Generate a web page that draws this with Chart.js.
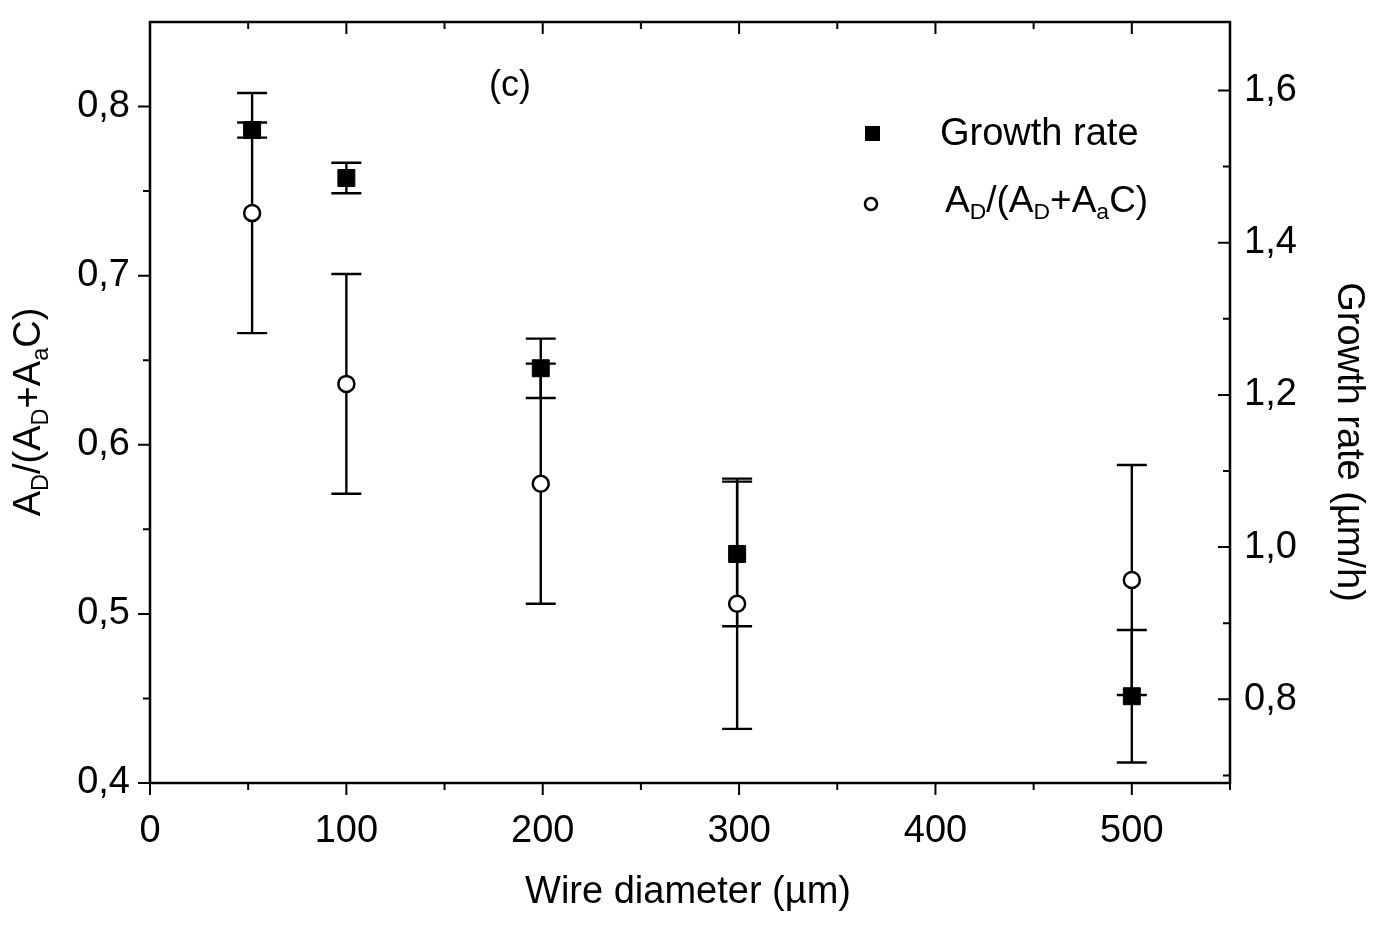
<!DOCTYPE html>
<html lang="en">
<head>
    <meta charset="UTF-8">
    <title>Wire diameter vs growth rate</title>
    <script src="https://cdn.jsdelivr.net/npm/chart.js@4.4.0/dist/chart.umd.min.js"></script>
    <style>
        body { margin: 0; background: #fff; }
        #wrap { width: 1395px; height: 927px; position: relative; }
    </style>
</head>
<body>
    <div id="wrap"><canvas id="chart"></canvas></div>

    <script>
        // data
        const diameters = [52, 100, 199, 299, 500];
        const growthRate = [1.548, 1.485, 1.235, 0.991, 0.804];
        const growthErr = [0.010, 0.020, 0.039, 0.095, 0.087];
        const ratio = [0.737, 0.636, 0.577, 0.506, 0.520];
        const ratioErr = [0.071, 0.065, 0.071, 0.074, 0.068];

        const xTicks = [0, 100, 200, 300, 400, 500];
        const leftTicks = [0.4, 0.5, 0.6, 0.7, 0.8];
        const rightTicks = [0.8, 1.0, 1.2, 1.4, 1.6];

        const FONT = "'Liberation Sans', Arial, sans-serif";
        const comma = v => Number(v).toFixed(1).replace('.', ',');

        // text with subscripts, parts: [text, isSub]
        function richText(ctx, parts, x, y, size, align) {
            let total = 0;
            parts.forEach(p => {
                ctx.font = (p[1] ? size * 0.62 : size) + 'px ' + FONT;
                total += ctx.measureText(p[0]).width;
            });
            let cx = align === 'center' ? x - total / 2 : x;
            ctx.textAlign = 'left';
            ctx.textBaseline = 'middle';
            parts.forEach(p => {
                ctx.font = (p[1] ? size * 0.62 : size) + 'px ' + FONT;
                ctx.fillText(p[0], cx, p[1] ? y + size * 0.3 : y);
                cx += ctx.measureText(p[0]).width;
            });
        }

        const ratioLabel = [['A', 0], ['D', 1], ['/(A', 0], ['D', 1], ['+A', 0], ['a', 1], ['C)', 0]];

        const errorBars = {
            id: 'errorBars',
            beforeDatasetsDraw(chart) {
                const ctx = chart.ctx, x = chart.scales.x;
                const sets = [[growthRate, growthErr, chart.scales.y2], [ratio, ratioErr, chart.scales.y]];
                ctx.save();
                ctx.strokeStyle = '#000';
                ctx.lineWidth = 2.4;
                sets.forEach(([vals, errs, ys]) => {
                    vals.forEach((v, i) => {
                        const px = x.getPixelForValue(diameters[i]);
                        const top = ys.getPixelForValue(v + errs[i]);
                        const bot = ys.getPixelForValue(v - errs[i]);
                        ctx.beginPath();
                        ctx.moveTo(px, top); ctx.lineTo(px, bot);
                        ctx.moveTo(px - 15, top); ctx.lineTo(px + 15, top);
                        ctx.moveTo(px - 15, bot); ctx.lineTo(px + 15, bot);
                        ctx.stroke();
                    });
                });
                ctx.restore();
            }
        };

        const frame = {
            id: 'frame',
            afterDraw(chart) {
                const ctx = chart.ctx, a = chart.chartArea;
                const x = chart.scales.x, y = chart.scales.y, y2 = chart.scales.y2;
                ctx.save();
                ctx.strokeStyle = '#000';
                ctx.lineWidth = 2.5;
                ctx.strokeRect(a.left, a.top, a.right - a.left, a.bottom - a.top);

                ctx.lineWidth = 2;
                ctx.beginPath();
                // x: bottom outward, top inward
                for (let v = 0; v <= 550; v += 50) {
                    const p = x.getPixelForValue(v);
                    const len = v % 100 === 0 ? 12 : 7;
                    ctx.moveTo(p, a.bottom); ctx.lineTo(p, a.bottom + len);
                    ctx.moveTo(p, a.top); ctx.lineTo(p, a.top + len);
                }
                // left outward
                for (let k = 0; k <= 8; k++) {
                    const v = 0.4 + k * 0.05;
                    const p = y.getPixelForValue(v);
                    const len = k % 2 === 0 ? 12 : 7;
                    ctx.moveTo(a.left, p); ctx.lineTo(a.left - len, p);
                }
                // right inward
                for (let k = 0; k <= 9; k++) {
                    const v = 0.7 + k * 0.1;
                    const p = y2.getPixelForValue(v);
                    const len = k % 2 === 1 ? 12 : 7;
                    ctx.moveTo(a.right, p); ctx.lineTo(a.right - len, p);
                }
                ctx.stroke();

                ctx.fillStyle = '#000';
                // panel label
                ctx.font = '36px ' + FONT;
                ctx.textAlign = 'center';
                ctx.textBaseline = 'middle';
                ctx.fillText('(c)', 510, 86);

                // legend
                ctx.fillRect(865, 126, 15, 15);
                ctx.beginPath();
                ctx.lineWidth = 2.5;
                ctx.arc(871, 204, 6, 0, Math.PI * 2);
                ctx.stroke();
                ctx.font = '38px ' + FONT;
                ctx.textAlign = 'left';
                ctx.fillText('Growth rate', 940, 135);
                richText(ctx, ratioLabel, 945, 202, 37, 'left');

                // axis titles
                ctx.font = '38px ' + FONT;
                ctx.textAlign = 'center';
                ctx.fillText('Wire diameter (\u00b5m)', 688, 893);

                ctx.save();
                ctx.translate(30, 412);
                ctx.rotate(-Math.PI / 2);
                richText(ctx, ratioLabel, 0, 0, 38, 'center');
                ctx.restore();

                ctx.save();
                ctx.translate(1348, 442);
                ctx.rotate(Math.PI / 2);
                ctx.font = '38px ' + FONT;
                ctx.textAlign = 'center';
                ctx.fillText('Growth rate (\u00b5m/h)', 0, 0);
                ctx.restore();

                ctx.restore();
            }
        };

        const toPoints = vals => vals.map((v, i) => ({ x: diameters[i], y: v }));

        new Chart(document.getElementById('chart'), {
            type: 'scatter',
            data: {
                datasets: [{
                    label: 'Growth rate',
                    data: toPoints(growthRate),
                    yAxisID: 'y2',
                    pointStyle: 'rect',
                    pointRadius: 12,
                    backgroundColor: '#000',
                    borderColor: '#000',
                    borderWidth: 1
                }, {
                    label: 'AD/(AD+AaC)',
                    data: toPoints(ratio),
                    yAxisID: 'y',
                    pointStyle: 'circle',
                    pointRadius: 8,
                    backgroundColor: '#fff',
                    borderColor: '#000',
                    borderWidth: 2.5
                }]
            },
            options: {
                responsive: true,
                maintainAspectRatio: false,
                animation: false,
                layout: { padding: { top: 22, left: 0, right: 0, bottom: 0 } },
                plugins: { legend: { display: false }, tooltip: { enabled: false } },
                scales: {
                    x: {
                        type: 'linear',
                        min: 0, max: 550,
                        afterFit: s => { s.height = 144; s.paddingLeft = 0; s.paddingRight = 0; },
                        afterBuildTicks: s => { s.ticks = xTicks.map(v => ({ value: v })); },
                        grid: { display: false, drawTicks: false },
                        border: { display: false },
                        ticks: { padding: 26, color: '#000', font: { family: FONT, size: 38 } }
                    },
                    y: {
                        position: 'left',
                        min: 0.4, max: 0.85,
                        afterFit: s => { s.width = 150; s.paddingTop = 0; s.paddingBottom = 0; },
                        afterBuildTicks: s => { s.ticks = leftTicks.map(v => ({ value: v })); },
                        grid: { display: false, drawTicks: false },
                        border: { display: false },
                        ticks: { padding: 20, color: '#000', font: { family: FONT, size: 38 }, callback: comma }
                    },
                    y2: {
                        position: 'right',
                        min: 0.69, max: 1.69,
                        afterFit: s => { s.width = 165; s.paddingTop = 0; s.paddingBottom = 0; },
                        afterBuildTicks: s => { s.ticks = rightTicks.map(v => ({ value: v })); },
                        grid: { display: false, drawTicks: false },
                        border: { display: false },
                        ticks: { padding: 14, color: '#000', font: { family: FONT, size: 38 }, callback: comma }
                    }
                }
            },
            plugins: [errorBars, frame]
        });
    </script>
</body>
</html>
